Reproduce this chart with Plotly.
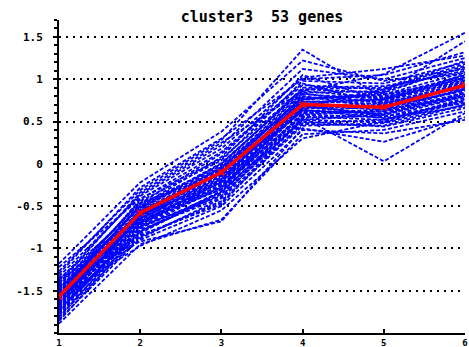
import plotly.graph_objects as go

conditions = [1, 2, 3, 4, 5, 6]

gene_profiles = [
    [-1.18, -0.22, 0.38, 1.22, 0.98, 1.12],
    [-1.27, -0.31, 0.28, 1.35, 0.78, 1.02],
    [-1.33, -0.38, 0.18, 1.02, 1.12, 1.28],
    [-1.42, -0.47, 0.12, 0.93, 0.88, 1.18],
    [-1.22, -0.41, 0.06, 0.88, 0.84, 1.45],
    [-1.48, -0.52, 0.01, 0.86, 1.06, 1.55],
    [-1.51, -0.57, -0.06, 0.79, 0.73, 1.06],
    [-1.56, -0.61, -0.11, 0.74, 0.71, 0.96],
    [-1.62, -0.66, -0.14, 0.69, 0.64, 0.89],
    [-1.67, -0.72, -0.21, 0.63, 0.59, 0.84],
    [-1.72, -0.76, -0.27, 0.58, 0.55, 0.80],
    [-1.78, -0.82, -0.33, 0.52, 0.49, 0.74],
    [-1.84, -0.88, -0.41, 0.47, 0.45, 0.70],
    [-1.89, -0.95, -0.66, 0.35, 0.40, 0.62],
    [-1.35, -0.92, -0.68, 0.42, 0.26, 0.55],
    [-1.58, -0.97, -0.55, 0.30, 0.50, 0.78],
    [-1.45, -0.84, -0.48, 0.55, 0.03, 0.60],
    [-1.63, -0.90, -0.50, 0.40, 0.36, 0.52],
    [-1.70, -0.78, -0.40, 0.60, 0.62, 0.88],
    [-1.52, -0.68, -0.30, 0.65, 0.70, 0.92],
    [-1.40, -0.60, -0.22, 0.82, 0.77, 0.99],
    [-1.75, -0.70, -0.18, 0.72, 0.66, 0.94],
    [-1.60, -0.55, -0.08, 0.78, 0.80, 1.04],
    [-1.55, -0.48, -0.02, 0.90, 0.92, 1.08],
    [-1.48, -0.44, 0.04, 0.98, 0.95, 1.20],
    [-1.66, -0.62, -0.16, 0.68, 0.58, 0.82],
    [-1.82, -0.74, -0.24, 0.56, 0.52, 0.76],
    [-1.73, -0.80, -0.36, 0.50, 0.44, 0.66],
    [-1.57, -0.86, -0.44, 0.45, 0.48, 0.70],
    [-1.62, -0.58, -0.04, 0.84, 0.86, 1.14],
    [-1.50, -0.50, 0.08, 1.05, 0.74, 0.98],
    [-1.38, -0.36, 0.22, 1.12, 1.00, 1.25],
    [-1.30, -0.28, 0.30, 1.00, 1.05, 1.32],
    [-1.44, -0.46, -0.12, 0.62, 0.68, 0.86],
    [-1.68, -0.64, -0.26, 0.66, 0.72, 0.90],
    [-1.77, -0.72, -0.20, 0.76, 0.82, 1.00],
    [-1.86, -0.80, -0.32, 0.54, 0.60, 0.83],
    [-1.54, -0.66, -0.28, 0.70, 0.56, 0.72],
    [-1.46, -0.56, -0.10, 0.80, 0.66, 0.88],
    [-1.59, -0.62, -0.18, 0.73, 0.76, 1.02],
    [-1.71, -0.76, -0.34, 0.58, 0.62, 0.84],
    [-1.64, -0.54, 0.00, 0.88, 0.90, 1.10],
    [-1.53, -0.42, 0.14, 0.95, 0.70, 0.93],
    [-1.41, -0.34, 0.25, 0.86, 0.78, 1.05],
    [-1.80, -0.86, -0.46, 0.48, 0.52, 0.75],
    [-1.61, -0.70, -0.30, 0.60, 0.64, 0.80],
    [-1.49, -0.60, -0.14, 0.76, 0.84, 1.16],
    [-1.36, -0.52, -0.06, 0.83, 0.72, 0.95],
    [-1.69, -0.68, -0.22, 0.64, 0.54, 0.68],
    [-1.56, -0.74, -0.38, 0.52, 0.58, 0.80],
    [-1.76, -0.58, -0.12, 0.71, 0.76, 0.97],
    [-1.65, -0.64, -0.20, 0.67, 0.88, 1.22],
    [-1.52, -0.50, -0.04, 0.77, 0.82, 1.08],
]

cluster_mean = [-1.57, -0.58, -0.10, 0.70, 0.67, 0.93]

y_tickvals = [-1.5, -1, -0.5, 0, 0.5, 1, 1.5]
y_ticktext = ["-1.5", "-1", "-0.5", "0", "0.5", "1", "1.5"]
x_ticktext = ["1", "2", "3", "4", "5", "6"]

title_text = "cluster3  53 genes"

fig = go.Figure()
for prof in gene_profiles:
    fig.add_trace(go.Scatter(
        x=conditions, y=prof, mode="lines",
        line=dict(color="#0000ff", width=1.8, dash="4px,2px"),
        hoverinfo="skip", showlegend=False,
    ))

fig.add_trace(go.Scatter(
    x=conditions, y=cluster_mean, mode="lines+markers",
    line=dict(color="#ff0000", width=3.5),
    marker=dict(symbol="x-thin", size=6, line=dict(color="#ff0000", width=2)),
    showlegend=False,
))

font_fam = "DejaVu Sans Mono"
fig.update_layout(
    width=469, height=347,
    margin=dict(l=59, r=4, t=20, b=14, autoexpand=False),
    paper_bgcolor="white", plot_bgcolor="white",
    title=dict(text="<b>" + title_text + "</b>", x=(59 + 465) / 2 / 469, xanchor="center",
               y=1 - 17 / 347, yanchor="middle",
               font=dict(family=font_fam, size=15, color="black")),
    xaxis=dict(
        range=[1, 6], tickvals=conditions, ticktext=["<b>" + t + "</b>" for t in x_ticktext],
        showgrid=False, zeroline=False, automargin=False,
        showline=True, linecolor="black", linewidth=2,
        ticks="inside", ticklen=4, tickwidth=2, tickcolor="black",
        tickfont=dict(family=font_fam, size=9, color="black"),
        ticklabelstandoff=0,
    ),
    yaxis=dict(
        range=[-2, 1.7], tickvals=y_tickvals, ticktext=["<b>" + t + "</b>" for t in y_ticktext],
        showgrid=True, gridcolor="black", gridwidth=2, griddash="2px,5px",
        zeroline=False, automargin=False,
        showline=True, linecolor="black", linewidth=2,
        ticks="outside", ticklen=4, tickwidth=2, tickcolor="black",
        minor=dict(dtick=0.1, tick0=0, ticks="outside", ticklen=3, tickwidth=2, tickcolor="black", showgrid=False),
        tickfont=dict(family=font_fam, size=11, color="black"),
        ticklabelstandoff=8,
    ),
)

fig.write_html("out.html", config={"displayModeBar": False},
               post_script="document.body.style.margin='0';document.body.style.overflow='hidden';")
